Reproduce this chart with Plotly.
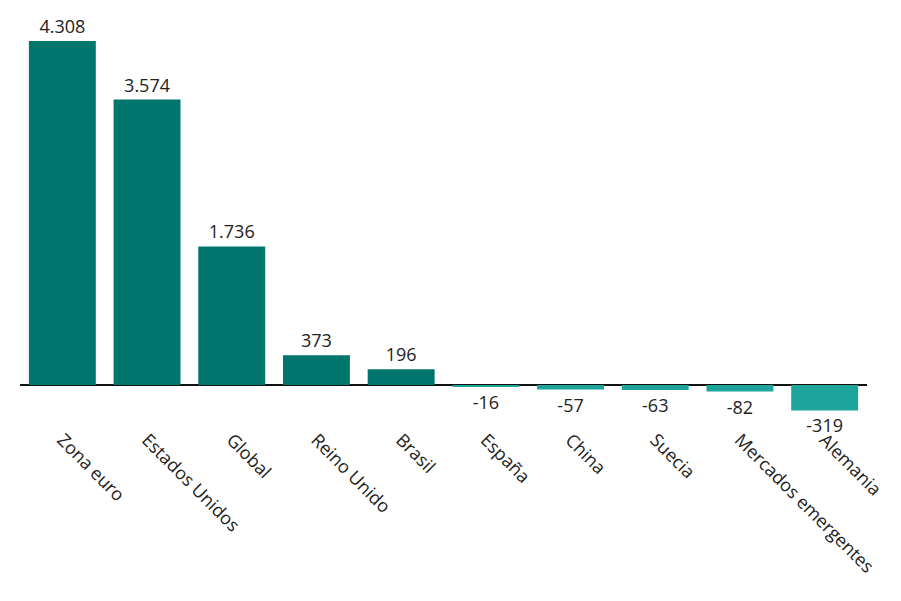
import plotly.graph_objects as go

categories = ["Zona euro", "Estados Unidos", "Global", "Reino Unido", "Brasil",
              "España", "China", "Suecia", "Mercados emergentes", "Alemania"]
values = [4308, 3574, 1736, 373, 196, -16, -57, -63, -82, -319]
value_labels = ["4.308", "3.574", "1.736", "373", "196", "-16", "-57", "-63", "-82", "-319"]

POS = "#00756E"
NEG = "#1DA59C"
colors = [POS if v >= 0 else NEG for v in values]

FONT = "Open Sans"

fig = go.Figure(go.Bar(
    x=categories, y=values, marker=dict(color=colors, line=dict(width=0)),
    text=value_labels, textposition="outside", cliponaxis=False,
    textfont=dict(size=18, color="#222222", family=FONT),
))

k = 344 / 4308
ymax = (385 - 10) / k
ymin = -(425 - 385) / k

fig.update_layout(
    width=901, height=601,
    margin=dict(l=20, r=34, t=10, b=176),
    plot_bgcolor="white", paper_bgcolor="white",
    bargap=0.21, showlegend=False,
    font=dict(family=FONT, size=18, color="#222222"),
    xaxis=dict(tickangle=45, showline=False, ticks="", showgrid=False,
               tickfont=dict(size=18, color="#222222", family=FONT)),
    yaxis=dict(range=[ymin, ymax], showticklabels=False, showgrid=False,
               zeroline=True, zerolinecolor="#111111", zerolinewidth=1.5),
)
fig.write_html("out.html")
